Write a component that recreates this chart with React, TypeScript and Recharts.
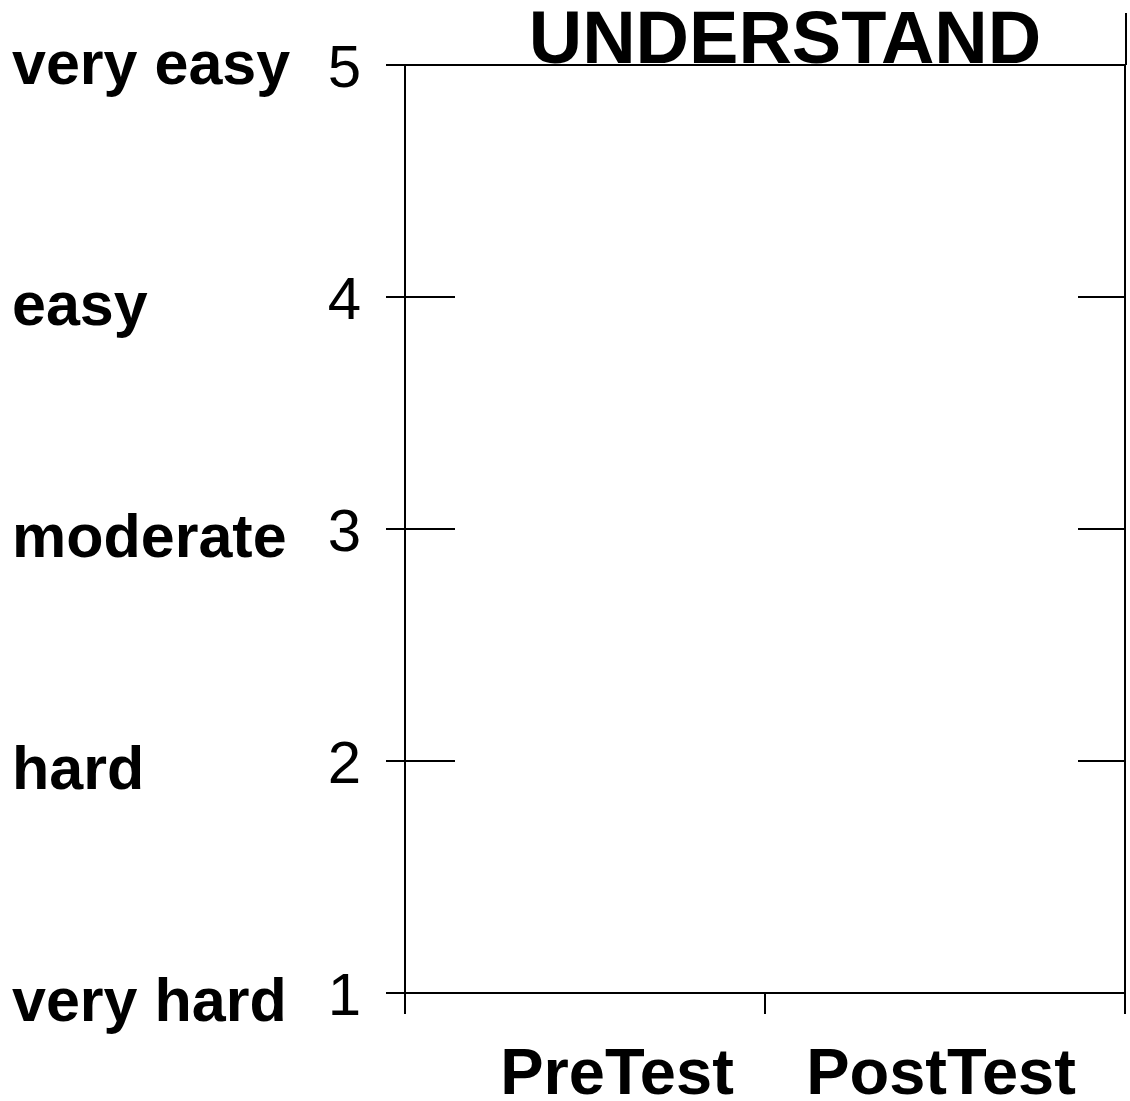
import React from "react";
import { LineChart, Line, XAxis, YAxis, Label } from "recharts";

// ---- data ----
const categories: string[] = ["PreTest", "PostTest"];
const ratingValues: number[] = [1, 2, 3, 4, 5];
const ratingLabels: string[] = ["very hard", "hard", "moderate", "easy", "very easy"];
// the reference plot area is empty: no scores are drawn
const scores: (number | null)[] = [null, null];
const chartTitle = "UNDERSTAND";

const data = categories.map((name, i) => ({ pos: i + 0.5, name, score: scores[i] }));
const xTicks: number[] = [];
categories.forEach((_, i) => {
  xTicks.push(i, i + 0.5);
});
xTicks.push(categories.length);
const xEdges: number[] = categories.map((_, i) => i).concat([categories.length]);

const FONT = "'Liberation Sans', Arial, Helvetica, sans-serif";
const INK = "#000";
const yDomain: [number, number] = [ratingValues[0], ratingValues[ratingValues.length - 1]];
// small horizontal nudges of the category labels, as in the reference
const categoryLabelNudge = [32, -4];

const LeftTick = (props: any) => {
  const { x, y, payload } = props;
  const v = payload.value as number;
  const idx = ratingValues.indexOf(v);
  const isTop = v === ratingValues[ratingValues.length - 1];
  return (
    <g>
      <line x1={x - 19} x2={x + 50} y1={y} y2={y} stroke={INK} strokeWidth={2} />
      <text x={x - 44} y={y + 22} textAnchor="end" fontFamily={FONT} fontSize={60} fill={INK}>
        {String(v)}
      </text>
      <text
        x={x - 393}
        y={y + (isTop ? 19 : 28)}
        textAnchor="start"
        fontFamily={FONT}
        fontWeight="bold"
        fontSize={61}
        fill={INK}
      >
        {ratingLabels[idx]}
      </text>
    </g>
  );
};

const RightTick = (props: any) => {
  const { x, y, payload } = props;
  const v = payload.value as number;
  const first = ratingValues[0];
  const last = ratingValues[ratingValues.length - 1];
  if (v === last) {
    return <line x1={x + 1} x2={x + 1} y1={y - 52} y2={y} stroke={INK} strokeWidth={2} />;
  }
  if (v === first) return <g />;
  return <line x1={x - 47} x2={x} y1={y} y2={y} stroke={INK} strokeWidth={2} />;
};

const BottomTick = (props: any) => {
  const { x, y, payload } = props;
  const v = payload.value as number;
  if (Number.isInteger(v)) {
    return <line x1={x} x2={x} y1={y} y2={y + 21} stroke={INK} strokeWidth={2} />;
  }
  const i = Math.floor(v);
  const name = categories[i];
  return (
    <text
      x={x + (categoryLabelNudge[i] || 0)}
      y={y + 101}
      textAnchor="middle"
      fontFamily={FONT}
      fontWeight="bold"
      fontSize={65}
      fill={INK}
    >
      {name}
    </text>
  );
};

const TitleContent = (props: any) => {
  const vb = props.viewBox || { x: 405, y: 65, width: 720, height: 0 };
  return (
    <text
      x={vb.x + vb.width / 2 + 20}
      y={vb.y + vb.height - 2}
      textAnchor="middle"
      fontFamily={FONT}
      fontWeight="bold"
      fontSize={74}
      fill={INK}
    >
      {chartTitle}
    </text>
  );
};

export default function App() {
  return (
    <div style={{ position: "absolute", left: 0, top: 0, width: 1130, height: 1101, background: "#fff" }}>
      <LineChart width={1130} height={1101} data={data} margin={{ top: 64, right: 0, bottom: 0, left: 0 }}>
        <XAxis
          xAxisId="bottom"
          dataKey="pos"
          type="number"
          domain={[0, categories.length]}
          allowDataOverflow
          ticks={xTicks}
          interval={0}
          height={108}
          tickSize={0}
          tickMargin={0}
          tickLine={false}
          axisLine={{ stroke: INK, strokeWidth: 2 }}
          tick={<BottomTick />}
        />
        <XAxis
          xAxisId="top"
          orientation="top"
          dataKey="pos"
          type="number"
          domain={[0, categories.length]}
          allowDataOverflow
          ticks={xEdges}
          interval={0}
          height={1}
          tickSize={0}
          tickMargin={0}
          tickLine={false}
          tick={false}
          axisLine={{ stroke: INK, strokeWidth: 2 }}
        >
          <Label content={<TitleContent />} />
        </XAxis>
        <YAxis
          yAxisId="left"
          type="number"
          domain={yDomain}
          allowDataOverflow
          ticks={ratingValues}
          interval={0}
          width={405}
          tickSize={0}
          tickMargin={0}
          tickLine={false}
          axisLine={{ stroke: INK, strokeWidth: 2 }}
          tick={<LeftTick />}
        />
        <YAxis
          yAxisId="right"
          orientation="right"
          type="number"
          domain={yDomain}
          allowDataOverflow
          ticks={ratingValues}
          interval={0}
          width={5}
          tickSize={0}
          tickMargin={0}
          tickLine={false}
          axisLine={{ stroke: INK, strokeWidth: 2 }}
          tick={<RightTick />}
        />
        <Line
          xAxisId="bottom"
          yAxisId="left"
          dataKey="score"
          stroke={INK}
          dot={false}
          isAnimationActive={false}
          connectNulls={false}
        />
        <Line
          xAxisId="top"
          yAxisId="right"
          dataKey="score"
          stroke={INK}
          dot={false}
          isAnimationActive={false}
          connectNulls={false}
        />
      </LineChart>
    </div>
  );
}
